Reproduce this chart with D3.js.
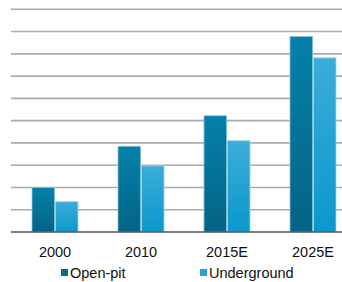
<!DOCTYPE html>
<html>
<head>
<meta charset="utf-8">
<script src="https://cdn.jsdelivr.net/npm/d3@7"></script>
<style>
  body { margin: 0; background: #fff; }
  svg { display: block; }
  svg text { font-family: "Liberation Sans", Arial, sans-serif; }
</style>
</head>
<body>
<svg id="chart"></svg>
<script>
const years = ["2000", "2010", "2015E", "2025E"];
const seriesNames = ["Open-pit", "Underground"];
const openPit = [2.0, 3.85, 5.22, 8.78];
const underground = [1.36, 2.97, 4.1, 7.82];
const gridTicks = d3.range(0, 11);

const width = 342;
const height = 282;
const svg = d3.select("#chart").attr("width", width).attr("height", height);

const x = d3.scaleBand().domain(years).range([12, 356]).paddingInner(0.465).paddingOuter(0.2325);
const inner = d3.scaleBand().domain(seriesNames).range([0, x.bandwidth()]).paddingInner(0.03);
const y = d3.scaleLinear().domain([0, 10]).range([232, 9.3]);

const defs = svg.append("defs");
const grads = [
    { id: "g0", top: "#0481ab", bottom: "#056383" },
    { id: "g1", top: "#3badd9", bottom: "#0b98cc" }
];
grads.forEach(g => {
    const lg = defs.append("linearGradient").attr("id", g.id)
        .attr("x1", 0).attr("y1", 0).attr("x2", 0).attr("y2", 1);
    lg.append("stop").attr("offset", "0%").attr("stop-color", g.top);
    lg.append("stop").attr("offset", "100%").attr("stop-color", g.bottom);
});

// gridlines
svg.append("g")
    .selectAll("line")
    .data(gridTicks.slice(1))
    .enter().append("line")
    .attr("x1", 11).attr("x2", width)
    .attr("y1", d => y(d)).attr("y2", d => y(d))
    .attr("stroke", "#ababab")
    .attr("stroke-width", 1.6);

const rows = years.map((yr, i) => ({ year: yr, values: [openPit[i], underground[i]] }));

const group = svg.append("g").selectAll("g")
    .data(rows)
    .enter().append("g")
    .attr("transform", d => `translate(${x(d.year)},0)`);

group.selectAll("rect")
    .data(d => d.values.map((v, i) => ({ series: seriesNames[i], value: v, idx: i })))
    .enter().append("rect")
    .attr("x", d => inner(d.series))
    .attr("width", inner.bandwidth())
    .attr("y", d => y(d.value))
    .attr("height", d => y(0) - y(d.value))
    .attr("fill", d => `url(#g${d.idx})`)
    .attr("stroke", d => d.idx === 0 ? "#8cc6dc" : "#9fd6ee")
    .attr("stroke-width", 0.8);

// baseline
svg.append("line")
    .attr("x1", 11).attr("x2", width)
    .attr("y1", y(0)).attr("y2", y(0))
    .attr("stroke", "#555")
    .attr("stroke-width", 1.6);

// x labels
const xAxis = svg.append("g")
    .attr("transform", `translate(0,${y(0)})`)
    .call(d3.axisBottom(x).tickSize(0).tickPadding(15));
xAxis.attr("font-family", null);
xAxis.select(".domain").remove();
xAxis.selectAll("text")
    .attr("font-size", 14.5)
    .attr("fill", "#111");

// legend
const legendX = [61, 200];
const legend = svg.append("g").selectAll("g")
    .data(seriesNames)
    .enter().append("g")
    .attr("transform", (d, i) => `translate(${legendX[i]},273)`);
legend.append("rect")
    .attr("x", 0).attr("y", -4)
    .attr("width", 7).attr("height", 7)
    .attr("fill", (d, i) => i === 0 ? "#056b8f" : "#23a4d6");
legend.append("text")
    .attr("x", 9).attr("y", 5)
    .attr("font-size", 14.5)
    .attr("fill", "#111")
    .text(d => d);
</script>
</body>
</html>
